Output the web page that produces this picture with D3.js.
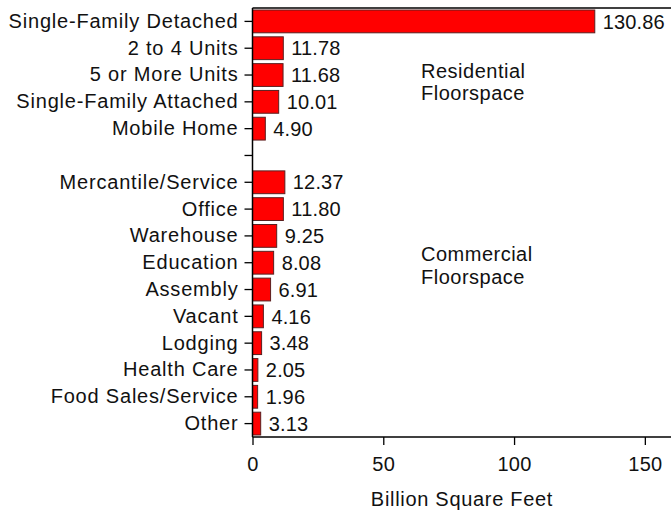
<!DOCTYPE html>
<html><head><meta charset="utf-8">
<script src="https://cdn.jsdelivr.net/npm/d3@7"></script>
<style>
body{margin:0;background:#fff;}
text{font-family:"Liberation Sans",Arial,Helvetica,sans-serif;fill:#111;}
</style></head>
<body>
<svg id="c" width="671" height="510"></svg>
<script>
const categories = ["Single-Family Detached","2 to 4 Units","5 or More Units","Single-Family Attached","Mobile Home","",
  "Mercantile/Service","Office","Warehouse","Education","Assembly","Vacant","Lodging","Health Care","Food Sales/Service","Other"];
const values = [130.86,11.78,11.68,10.01,4.90,null,12.37,11.80,9.25,8.08,6.91,4.16,3.48,2.05,1.96,3.13];
const xTicks = [0,50,100,150];
const xTitle = "Billion Square Feet";
const annotationLines = [["Residential","Floorspace"],["Commercial","Floorspace"]];

const svg = d3.select("#c");
const m = {left:252.5, top:8, right:671, bottom:437};
const keys = categories.map((c,i)=>i);
const x = d3.scaleLinear().domain([0,160]).range([m.left,m.right]);
const y = d3.scaleBand().domain(keys).range([m.top,m.bottom]).paddingInner(0.15).paddingOuter(0.075);
const fs = 20;

// bars
svg.append("g").selectAll("rect").data(keys.filter(i=>values[i]!=null)).join("rect")
  .attr("x",x(0)).attr("y",i=>y(i)).attr("width",i=>x(values[i])-x(0)).attr("height",y.bandwidth())
  .attr("fill","#ff0000").attr("stroke","#5a2020").attr("stroke-width",1);

// value labels
svg.append("g").selectAll("text").data(keys.filter(i=>values[i]!=null)).join("text")
  .attr("x",i=>x(values[i])+8).attr("y",i=>y(i)+y.bandwidth()/2).attr("dy","0.36em")
  .attr("font-size",fs).attr("letter-spacing","0.15px")
  .text(i=>values[i].toFixed(2));

// left axis
const yAxis = d3.axisLeft(y).tickSize(8).tickPadding(6).tickFormat(i=>categories[i]);
const gy = svg.append("g").attr("transform",`translate(${m.left},0)`).call(yAxis);
gy.select(".domain").remove();
gy.selectAll(".tick line").attr("stroke","#000").attr("stroke-width",1.3);
gy.selectAll(".tick text").attr("font-size",fs).attr("letter-spacing","0.8px").attr("font-family","Liberation Sans, Arial, sans-serif").attr("fill","#111");

// bottom axis
const xAxis = d3.axisBottom(x).tickValues(xTicks).tickSize(8).tickPadding(12);
const gx = svg.append("g").attr("transform",`translate(0,${m.bottom})`).call(xAxis);
gx.select(".domain").remove();
gx.selectAll(".tick line").attr("stroke","#000").attr("stroke-width",1.3);
gx.selectAll(".tick text").attr("font-size",fs).attr("letter-spacing","0.3px").attr("font-family","Liberation Sans, Arial, sans-serif").attr("fill","#111");

// frame lines
svg.append("line").attr("x1",m.left).attr("x2",m.right).attr("y1",m.top).attr("y2",m.top).attr("stroke","#000").attr("stroke-width",1.5);
svg.append("line").attr("x1",m.left).attr("x2",m.right).attr("y1",m.bottom).attr("y2",m.bottom).attr("stroke","#000").attr("stroke-width",1.5);
svg.append("line").attr("x1",m.left).attr("x2",m.left).attr("y1",m.top).attr("y2",m.bottom).attr("stroke","#000").attr("stroke-width",1.5);

// axis title
svg.append("text").attr("x",462).attr("y",506).attr("text-anchor","middle")
  .attr("font-size",fs).attr("letter-spacing","0.7px").text(xTitle);

// annotations
const annBaselines = [77.7, 261];
annotationLines.forEach((lines,k)=>{
  const t = svg.append("text").attr("x",421).attr("y",annBaselines[k]).attr("font-size",fs).attr("letter-spacing","0.5px");
  lines.forEach((l,j)=>t.append("tspan").attr("x",421).attr("dy",j===0?"0":"1.13em").text(l));
});
</script>
</body></html>
